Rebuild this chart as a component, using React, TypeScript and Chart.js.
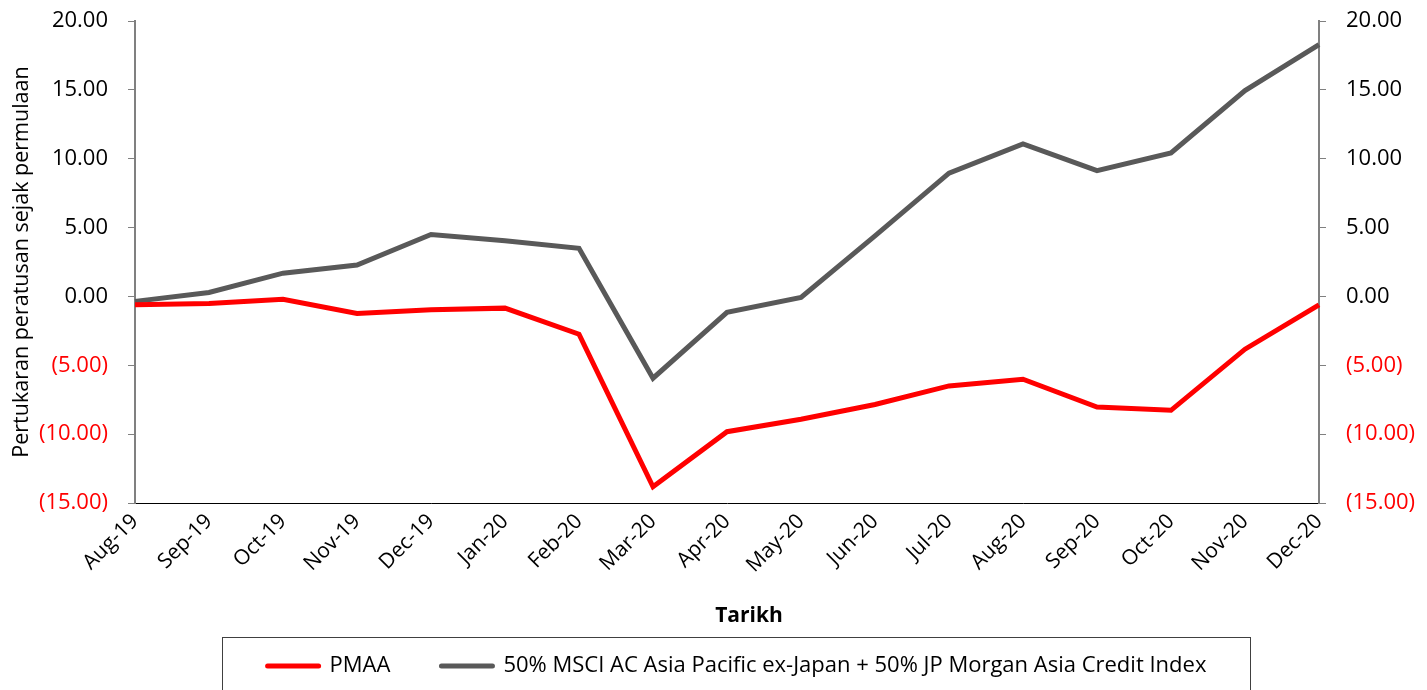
import React, { useEffect, useRef } from "react";
import { Chart, registerables } from "chart.js";

Chart.register(...registerables);

const categories = [
  "Aug-19", "Sep-19", "Oct-19", "Nov-19", "Dec-19", "Jan-20", "Feb-20", "Mar-20", "Apr-20",
  "May-20", "Jun-20", "Jul-20", "Aug-20", "Sep-20", "Oct-20", "Nov-20", "Dec-20",
];
const pmaa = [-0.6, -0.51, -0.2, -1.24, -0.97, -0.85, -2.74, -13.82, -9.82, -8.92, -7.85, -6.5, -6.01, -8.03, -8.27, -3.83, -0.61];
const benchmark = [-0.36, 0.29, 1.69, 2.28, 4.5, 4.05, 3.49, -5.94, -1.16, -0.07, 4.4, 8.95, 11.08, 9.13, 10.42, 14.95, 18.28];
const seriesNames = ["PMAA", "50% MSCI AC Asia Pacific ex-Japan + 50% JP Morgan Asia Credit Index"];
const seriesColors = ["#ff0000", "#595959"];
const yMin = -15;
const yMax = 20;
const yStep = 5;
const yTitle = "Pertukaran peratusan sejak permulaan";
const xTitle = "Tarikh";

const FONT = "'Open Sans', 'Noto Sans', sans-serif";

const fmt = (v: number) => (v < 0 ? `(${Math.abs(v).toFixed(2)})` : v.toFixed(2));
const tickColor = (ctx: any) => (ctx.tick && ctx.tick.value < 0 ? "#ff0000" : "#000000");

const boxedLegend = {
  id: "boxedLegend",
  afterDraw(chart: any) {
    const ctx = chart.ctx;
    const area = chart.chartArea;
    const lineLen = 55;
    const gap = 9;
    const spacing = 49;
    const center = (area.left + area.right) / 2 + 9;
    const y = 666;
    ctx.save();
    // x-axis title
    ctx.font = `bold 21px ${FONT}`;
    ctx.fillStyle = "#000000";
    ctx.textAlign = "center";
    ctx.textBaseline = "middle";
    ctx.fillText(xTitle, (area.left + area.right) / 2 + 22, 616);
    // legend
    ctx.font = `22px ${FONT}`;
    const items = chart.data.datasets.map((d: any) => ({
      label: d.label,
      color: d.borderColor,
      w: lineLen + gap + ctx.measureText(d.label).width,
    }));
    const total = items.reduce((s: number, it: any) => s + it.w, 0) + spacing * (items.length - 1);
    let x = center - total / 2;
    const start = x;
    ctx.strokeStyle = "#404040";
    ctx.lineWidth = 1;
    ctx.strokeRect(Math.round(start - 44) + 0.5, 637.5, Math.round(total + 87), 80);
    ctx.textBaseline = "middle";
    ctx.textAlign = "left";
    items.forEach((it: any) => {
      ctx.beginPath();
      ctx.lineCap = "round";
      ctx.lineWidth = 5;
      ctx.strokeStyle = it.color;
      ctx.moveTo(x + 2, y);
      ctx.lineTo(x + lineLen - 2, y);
      ctx.stroke();
      ctx.fillStyle = "#000000";
      ctx.fillText(it.label, x + lineLen + gap, y);
      x += it.w + spacing;
    });
    ctx.restore();
  },
};

export default function App() {
  const ref = useRef<HTMLCanvasElement | null>(null);
  useEffect(() => {
    document.body.style.margin = "0";
    document.body.style.overflow = "hidden";
    if (!ref.current) return;
    const chart = new Chart(ref.current, {
      type: "line",
      data: {
        labels: categories,
        datasets: [
          {
            label: seriesNames[0],
            data: pmaa,
            borderColor: seriesColors[0],
            backgroundColor: seriesColors[0],
            borderWidth: 5,
            pointRadius: 0,
            tension: 0,
            yAxisID: "y",
            order: 1,
          },
          {
            label: seriesNames[1],
            data: benchmark,
            borderColor: seriesColors[1],
            backgroundColor: seriesColors[1],
            borderWidth: 5,
            pointRadius: 0,
            tension: 0,
            yAxisID: "y",
            order: 2,
          },
        ],
      },
      options: {
        animation: false,
        responsive: false,
        maintainAspectRatio: false,
        layout: { padding: { top: 21, bottom: 60, left: 0, right: 0 } },
        plugins: {
          legend: { display: false },
          tooltip: { enabled: false },
        },
        scales: {
          x: {
            offset: false,
            grid: { display: true, drawOnChartArea: false, drawTicks: false },
            border: { display: true, color: "#000000", width: 1 },
            ticks: {
              autoSkip: false,
              maxRotation: 45,
              minRotation: 45,
              padding: 6,
              color: "#000000",
              font: { family: FONT, size: 21 },
            },
            title: { display: false, text: xTitle },
            afterFit(scale: any) {
              scale.height = 127;
            },
          },
          y: {
            position: "left",
            min: yMin,
            max: yMax,
            grid: { display: true, drawOnChartArea: false, drawTicks: true, tickLength: 7, color: "#808080" },
            border: { display: true, color: "#808080", width: 2 },
            ticks: {
              stepSize: yStep,
              padding: 20,
              color: tickColor,
              font: { family: FONT, size: 22 },
              callback: (v: any) => fmt(Number(v)),
            },
            title: {
              display: true,
              text: yTitle,
              color: "#000000",
              font: { family: FONT, size: 21.5 },
              padding: { top: 9, bottom: 0 },
            },
            afterFit(scale: any) {
              scale.width = 135;
              scale.paddingTop = 0;
              scale.paddingBottom = 0;
            },
          },
          y2: {
            position: "right",
            min: yMin,
            max: yMax,
            grid: { display: true, drawOnChartArea: false, drawTicks: true, tickLength: 7, color: "#808080" },
            border: { display: true, color: "#808080", width: 2 },
            ticks: {
              stepSize: yStep,
              padding: 20,
              color: tickColor,
              font: { family: FONT, size: 22 },
              callback: (v: any) => fmt(Number(v)),
            },
            afterFit(scale: any) {
              scale.width = 108;
              scale.paddingTop = 0;
              scale.paddingBottom = 0;
            },
          },
        },
      },
      plugins: [boxedLegend],
    });
    return () => chart.destroy();
  }, []);
  return (
    <div style={{ width: 1427, height: 690, position: "relative" }}>
      <canvas ref={ref} width={1427} height={690} style={{ width: 1427, height: 690, display: "block" }} />
    </div>
  );
}
